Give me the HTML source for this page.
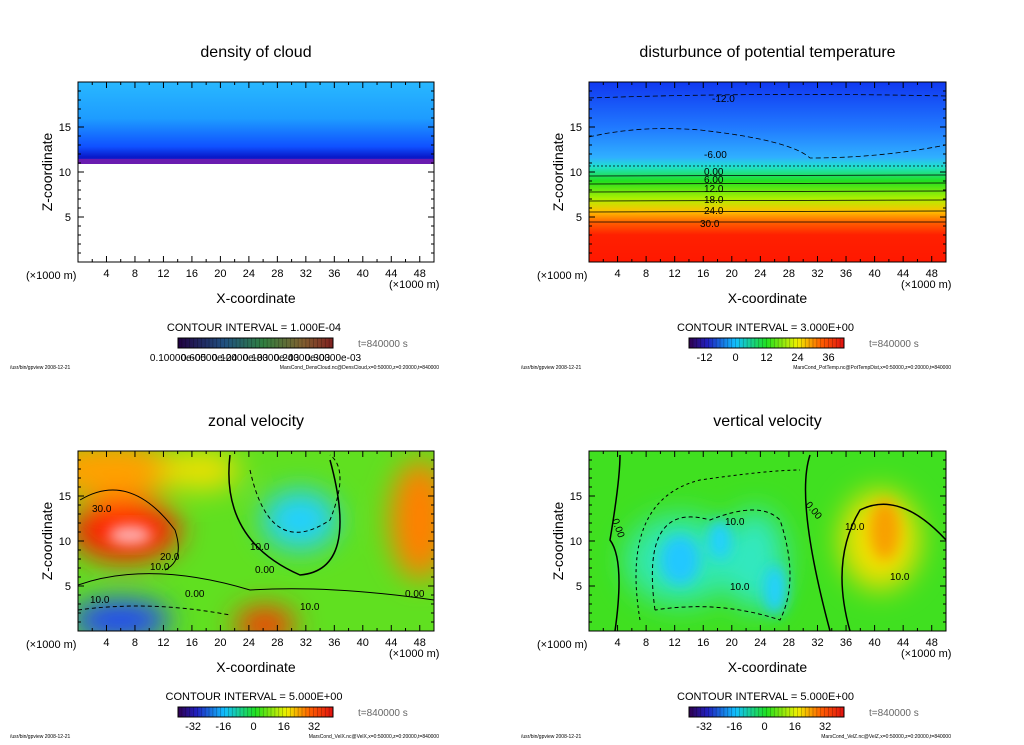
<!DOCTYPE html>
<html><head><meta charset="utf-8"><style>
body{margin:0;background:#fff;width:1024px;height:740px;overflow:hidden;font-family:"Liberation Sans",sans-serif}
svg text{font-family:"Liberation Sans",sans-serif}
</style></head><body>
<svg id="s" width="1024" height="740" viewBox="0 0 1024 740" xmlns="http://www.w3.org/2000/svg">
<defs>
<filter id="bl" x="-50%" y="-50%" width="200%" height="200%"><feGaussianBlur stdDeviation="14"/></filter>
<filter id="bl2" x="-50%" y="-50%" width="200%" height="200%"><feGaussianBlur stdDeviation="7"/></filter>
<linearGradient id="gCloud" x1="0" y1="0" x2="0" y2="1">
<stop offset="0" stop-color="#28b8ff"/><stop offset="0.45" stop-color="#1e9cff"/><stop offset="0.8" stop-color="#1050ff"/><stop offset="0.93" stop-color="#0818c8"/><stop offset="1" stop-color="#6020c0"/></linearGradient>
<linearGradient id="gTemp" x1="0" y1="0" x2="0" y2="1">
<stop offset="0" stop-color="#1038f0"/><stop offset="0.25" stop-color="#2078ff"/><stop offset="0.42" stop-color="#30b0ff"/><stop offset="0.47" stop-color="#20e0d0"/><stop offset="0.55" stop-color="#20e020"/><stop offset="0.65" stop-color="#b0f000"/><stop offset="0.72" stop-color="#ffc000"/><stop offset="0.78" stop-color="#ff6000"/><stop offset="0.85" stop-color="#ff2000"/><stop offset="1" stop-color="#ff1800"/></linearGradient>
<linearGradient id="gBar" x1="0" y1="0" x2="1" y2="0">
<stop offset="0" stop-color="#300050"/><stop offset="0.12" stop-color="#2020c0"/><stop offset="0.3" stop-color="#10c0ff"/><stop offset="0.5" stop-color="#20e020"/><stop offset="0.7" stop-color="#f0f000"/><stop offset="0.85" stop-color="#ff6000"/><stop offset="1" stop-color="#e01010"/></linearGradient>
<linearGradient id="gBarD" x1="0" y1="0" x2="1" y2="0">
<stop offset="0" stop-color="#200040"/><stop offset="0.3" stop-color="#205080"/><stop offset="0.55" stop-color="#308040"/><stop offset="0.8" stop-color="#806030"/><stop offset="1" stop-color="#802020"/></linearGradient>
<clipPath id="c1"><rect x="78" y="82" width="356" height="180"/></clipPath>
<clipPath id="c2"><rect x="589" y="82" width="357" height="180"/></clipPath>
<clipPath id="c3"><rect x="78" y="451" width="356" height="180"/></clipPath>
<clipPath id="c4"><rect x="589" y="451" width="357" height="180"/></clipPath>
</defs>

<g clip-path="url(#c1)">
<rect x="78" y="82" width="356" height="81" fill="url(#gCloud)"/>
<rect x="78" y="159" width="356" height="5" fill="#6a1cb0"/>
</g>
<g clip-path="url(#c2)">
<rect x="589" y="82" width="357" height="180" fill="url(#gTemp)"/>
<g fill="none" stroke="#000" stroke-width="0.8">
<path d="M589 98 Q760 92 946 96" stroke-dasharray="5,3"/>
<path d="M589 137 Q640 125 700 130 Q790 140 810 158 Q880 158 946 145" stroke-dasharray="5,3"/>
<path d="M589 166 L946 166" stroke-dasharray="2,2"/>
<path d="M589 176 L946 175"/><path d="M589 184 L946 183"/><path d="M589 192 L946 191"/>
<path d="M589 201 L946 200"/><path d="M589 212 L946 211"/><path d="M589 222 L946 222"/>
</g>
<g font-size="10" fill="#000"><text x="712" y="102">-12.0</text><text x="704" y="158">-6.00</text><text x="704" y="175">0.00</text><text x="704" y="183">6.00</text><text x="704" y="192">12.0</text><text x="704" y="203">18.0</text><text x="704" y="214">24.0</text><text x="700" y="227">30.0</text></g>
</g>
<g clip-path="url(#c3)">
<rect x="78" y="451" width="356" height="180" fill="#60e020"/>
<g filter="url(#bl)">
<ellipse cx="110" cy="470" rx="70" ry="30" fill="#ffa000"/>
<ellipse cx="420" cy="520" rx="30" ry="60" fill="#ff8000"/>
<ellipse cx="125" cy="530" rx="55" ry="32" fill="#ff2000"/>
<ellipse cx="200" cy="470" rx="40" ry="20" fill="#f0e000"/>
<ellipse cx="120" cy="620" rx="50" ry="20" fill="#2040ff"/>
<ellipse cx="300" cy="520" rx="38" ry="30" fill="#20d0ff"/>
<ellipse cx="265" cy="625" rx="30" ry="18" fill="#ff3000"/>
</g>
<ellipse cx="130" cy="535" rx="22" ry="10" fill="#ffb0b0" filter="url(#bl2)"/>
<g fill="none" stroke="#000" stroke-width="1">
<path d="M80 500 Q130 470 175 530 Q185 560 165 570"/>
<path d="M230 455 Q220 540 300 575 Q360 570 330 460" stroke-width="1.5"/>
<path d="M250 470 Q270 560 330 520 Q350 470 330 455" stroke-dasharray="4,3"/>
<path d="M78 585 Q150 560 250 590 Q330 585 434 600"/>
<path d="M78 610 Q150 600 230 615" stroke-dasharray="4,3"/>
</g>
<g font-size="10"><text x="92" y="512">30.0</text><text x="160" y="560">20.0</text><text x="150" y="570">10.0</text><text x="250" y="550">10.0</text><text x="255" y="573">0.00</text><text x="90" y="603">10.0</text><text x="185" y="597">0.00</text><text x="300" y="610">10.0</text><text x="405" y="597">0.00</text></g>
</g>
<g clip-path="url(#c4)">
<rect x="589" y="451" width="357" height="180" fill="#40e020"/>
<g filter="url(#bl)">
<ellipse cx="680" cy="560" rx="55" ry="45" fill="#30e8b0"/>
<ellipse cx="755" cy="560" rx="30" ry="50" fill="#30e8c0"/>
<ellipse cx="880" cy="540" rx="40" ry="50" fill="#f0e000"/>
</g>
<g filter="url(#bl2)">
<ellipse cx="680" cy="560" rx="20" ry="25" fill="#20c8ff"/>
<ellipse cx="720" cy="540" rx="12" ry="20" fill="#20d0ff"/>
<ellipse cx="775" cy="590" rx="12" ry="25" fill="#20d0ff"/>
<ellipse cx="885" cy="530" rx="15" ry="30" fill="#f8a000"/>
</g>
<g fill="none" stroke="#000" stroke-width="1">
<path d="M620 455 Q620 480 610 540 Q625 560 615 631" stroke-width="1.5"/>
<path d="M810 455 Q795 500 830 631" stroke-width="1.5"/>
<path d="M655 610 Q640 500 710 520 Q760 500 780 520 Q800 580 780 620 Q720 600 655 610" stroke-dasharray="4,3"/>
<path d="M850 631 Q830 560 860 510 Q900 490 946 540" stroke-width="1.5"/>
<path d="M640 620 Q620 500 700 480 Q770 470 800 470" stroke-dasharray="3,3"/>
</g>
<g font-size="10"><text x="612" y="520" transform="rotate(70 612 520)">0.00</text><text x="805" y="505" transform="rotate(50 805 505)">0.00</text><text x="725" y="525">10.0</text><text x="730" y="590">10.0</text><text x="845" y="530">10.0</text><text x="890" y="580">10.0</text></g>
</g>

<g id="axes"></g>
</svg>
<script>
const xTicks=[4,8,12,16,20,24,28,32,36,40,44,48];
const zTicks=[5,10,15];
const xMax=50, zMax=20;
const titles=["density of cloud","disturbunce of potential temperature","zonal velocity","vertical velocity"];
const intervals=["1.000E-04","3.000E+00","5.000E+00","5.000E+00"];
const barLabels=[["0.10000e-05","0.60000e-04","0.12000e-03","0.18000e-03","0.24000e-03","0.30000e-03"],["-12","0","12","24","36"],["-32","-16","0","16","32"],["-32","-16","0","16","32"]];
const barValues=[[0,0.2,0.4,0.6,0.8,1],[-12,0,12,24,36],[-32,-16,0,16,32],[-32,-16,0,16,32]];
const barRanges=[[0,1],[-18,42],[-40,42],[-40,42]];
const footers=["MarsCond_DensCloud.nc@DensCloud,x=0:50000,z=0:20000,t=840000","MarsCond_PotTemp.nc@PotTempDist,x=0:50000,z=0:20000,t=840000","MarsCond_VelX.nc@VelX,x=0:50000,z=0:20000,t=840000","MarsCond_VelZ.nc@VelZ,x=0:50000,z=0:20000,t=840000"];
const panels=[[78,82,356,180],[589,82,357,180],[78,451,356,180],[589,451,357,180]];
const NS="http://www.w3.org/2000/svg";
const g=document.getElementById('axes');
function mk(t,a,txt){const e=document.createElementNS(NS,t);for(const k in a)e.setAttribute(k,a[k]);if(txt!==undefined)e.textContent=txt;g.appendChild(e);return e;}
panels.forEach((p,i)=>{
 const [x0,y0,w,h]=p;
 const sx=v=>x0+v/xMax*w, sz=v=>y0+h-v/zMax*h;
 let e=mk('rect',{x:x0,y:y0,width:w,height:h,fill:'none',stroke:'#000','stroke-width':1});
 
 
 for(let v=2;v<xMax;v+=2){const L=v%4==0?6:3;mk('line',{x1:sx(v),x2:sx(v),y1:y0+h,y2:y0+h-L,stroke:'#000'});mk('line',{x1:sx(v),x2:sx(v),y1:y0,y2:y0+L,stroke:'#000'});}
 for(let v=1;v<zMax;v++){const L=v%5==0?6:3;mk('line',{x1:x0,x2:x0+L,y1:sz(v),y2:sz(v),stroke:'#000'});mk('line',{x1:x0+w,x2:x0+w-L,y1:sz(v),y2:sz(v),stroke:'#000'});}
 xTicks.forEach(v=>{const t=mk('text',{x:sx(v),y:y0+h+15,'font-size':11,'text-anchor':'middle'},v);});
 zTicks.forEach(v=>{const t=mk('text',{x:x0-7,y:sz(v)+4,'font-size':11,'text-anchor':'end'},v);});
 mk('text',{x:x0-52,y:y0+h+17,'font-size':11},'(×1000 m)');
 mk('text',{x:x0+w-45,y:y0+h+26,'font-size':11},'(×1000 m)');
 e=mk('text',{x:x0+w/2,y:y0+h+41,'font-size':14,'text-anchor':'middle'},'X-coordinate');
 
 
 e=mk('text',{x:x0-26,y:y0+h/2,'font-size':14,'text-anchor':'middle',transform:`rotate(-90 ${x0-26} ${y0+h/2})`},'Z-coordinate');
 
 
 e=mk('text',{x:x0+w/2,y:y0-25,'font-size':16,'text-anchor':'middle'},titles[i]);
 
 
 mk('text',{x:x0+w/2-2,y:y0+h+69,'font-size':11,'text-anchor':'middle'},'CONTOUR INTERVAL = '+intervals[i]);
 const bx=x0+100,bw=155,by=y0+h+76;
 e=mk('rect',{x:bx,y:by,width:bw,height:10,fill:i==0?'url(#gBarD)':'url(#gBar)',stroke:'#000'});
 
 
 for(let k=1;k<40;k++)mk('line',{x1:bx+k*bw/40,x2:bx+k*bw/40,y1:by,y2:by+10,stroke:'#000','stroke-opacity':0.35,'stroke-width':0.6});
 const [r0,r1]=barRanges[i];
 barValues[i].forEach((v,k)=>{const t=mk('text',{x:bx+(v-r0)/(r1-r0)*bw,y:by+23,'font-size':i==0?10:11,'text-anchor':'middle'},barLabels[i][k]);});
 mk('text',{x:bx+180,y:by+9,'font-size':10,fill:'#666'},'t=840000 s');
 mk('text',{x:x0-68,y:y0+h+107,'font-size':5},'/usr/bin/gpview   2008-12-21');
 mk('text',{x:x0+w+5,y:y0+h+107,'font-size':5,'text-anchor':'end'},footers[i]);
});
</script>
</body></html>
